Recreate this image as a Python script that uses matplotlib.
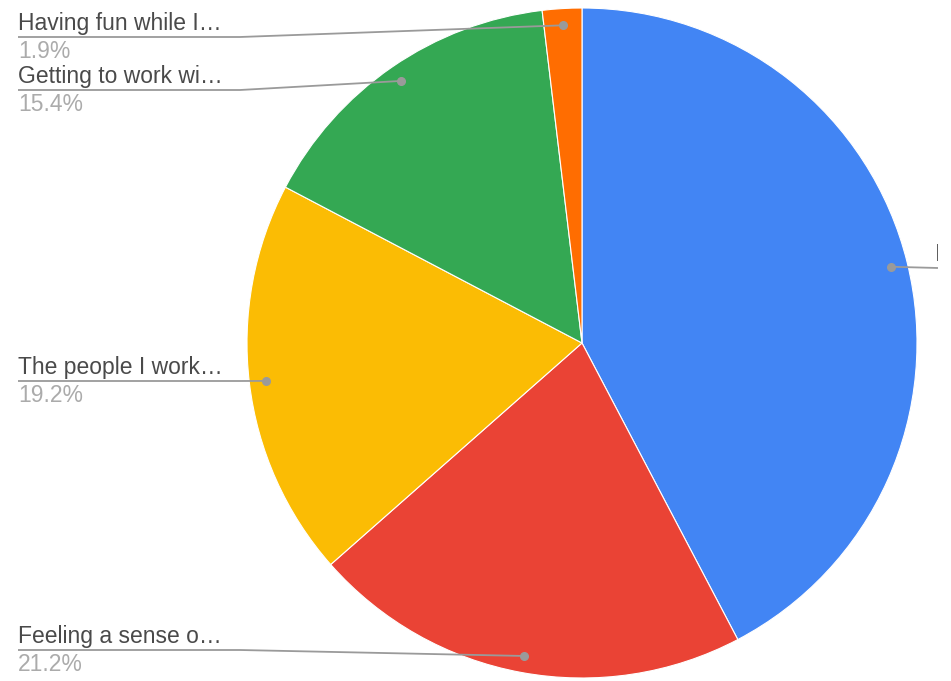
import numpy as np
import matplotlib
matplotlib.use("Agg")
import matplotlib.pyplot as plt

# 数据：顺时针从12点方向开始
labels = ["I…", "Feeling a sense o…", "The people I work…", "Getting to work wi…", "Having fun while I…"]
values = [42.3, 21.2, 19.2, 15.4, 1.9]
colors = ["#4285F4", "#EA4335", "#FBBC04", "#34A853", "#FF6D01"]

W, H = 951, 681
# 标签布局（像素，y从上往下），引线所在高度
label_x = [935, 18, 18, 18, 18]
line_y = [268, 650, 381, 90, 37]
line_end_x = [938, 240, 240, 240, 240]

plt.rcParams["font.family"] = ["Liberation Sans", "DejaVu Sans"]
fig = plt.figure(figsize=(W / 100, H / 100), dpi=100)
ax = fig.add_axes([0, 0, 938 / W, 1])
cx, cy, r = 582, H - 343, 335

wedges, _ = ax.pie(values, colors=colors, startangle=90, counterclock=False,
                   center=(cx, cy), radius=r, wedgeprops=dict(edgecolor="white", linewidth=0.8))
ax.set_xlim(0, 938)
ax.set_ylim(0, H)
ax.set_aspect("equal")
ax.axis("off")

for w, lab, v, lx, ly, ex in zip(wedges, labels, values, label_x, line_y, line_end_x):
    mid = np.deg2rad((w.theta1 + w.theta2) / 2)
    dx, dy = cx + 0.95 * r * np.cos(mid), cy + 0.95 * r * np.sin(mid)
    yy = H - ly
    if lx < cx:
        xs, ys = [lx, ex, dx], [yy, yy, dy]
    else:
        xs, ys = [dx, ex], [dy, yy]
    ax.plot(xs, ys, color="#9a9a9a", lw=1.3, solid_capstyle="butt", clip_on=True)
    ax.plot([dx], [dy], "o", color="#9a9a9a", ms=5.5)
    ax.text(lx, yy + 7, lab, fontsize=16.5, color="#4a4a4a", va="baseline", ha="left", clip_on=True)
    if lx < cx:
        ax.text(lx, yy - 21, f"{v:.1f}%", fontsize=16.5, color="#ababab", va="baseline", ha="left")

fig.savefig("out.png", dpi=100)
